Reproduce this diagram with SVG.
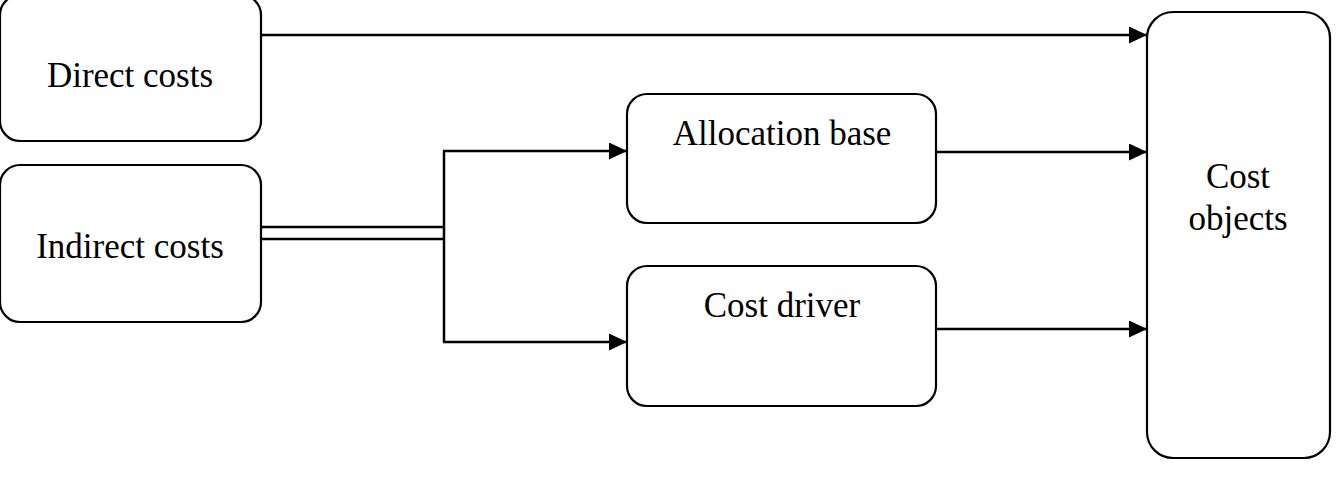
<svg xmlns="http://www.w3.org/2000/svg" width="1337" height="479" viewBox="0 0 1337 479">
<defs>
<style>
.box{fill:#fff;stroke:#000;stroke-width:2.2}
.t{font-family:"Liberation Serif","Times New Roman",serif;font-size:35px;fill:#000;text-anchor:middle}
.ln{fill:none;stroke:#000;stroke-width:2.5}
</style>
<marker id="ah" markerWidth="18" markerHeight="17" refX="18" refY="8.5" orient="auto" markerUnits="userSpaceOnUse">
<path d="M0,0 L18,8.5 L0,17 Z" fill="#000"/>
</marker>
</defs>
<rect width="1337" height="479" fill="#fff"/>
<g id="connectors">
<path class="ln" d="M261,35 H1147" marker-end="url(#ah)"/>
<path class="ln" d="M261,227 H444 M261,239 H444"/>
<path class="ln" d="M444,342 V151"/>
<path class="ln" d="M443,151 H627" marker-end="url(#ah)"/>
<path class="ln" d="M443,342 H627" marker-end="url(#ah)"/>
<path class="ln" d="M936,152 H1147" marker-end="url(#ah)"/>
<path class="ln" d="M936,329 H1147" marker-end="url(#ah)"/>
</g>
<g id="direct-costs">
<rect class="box" x="0" y="-5" width="261" height="146" rx="20"/>
<text class="t" x="130" y="87">Direct costs</text>
</g>
<g id="indirect-costs">
<rect class="box" x="0" y="165" width="261" height="157" rx="20"/>
<text class="t" x="130" y="258">Indirect costs</text>
</g>
<g id="allocation-base">
<rect class="box" x="627" y="94" width="309" height="129" rx="20"/>
<text class="t" x="782" y="145">Allocation base</text>
</g>
<g id="cost-driver">
<rect class="box" x="627" y="266" width="309" height="140" rx="20"/>
<text class="t" x="782" y="317">Cost driver</text>
</g>
<g id="cost-objects">
<rect class="box" x="1147" y="12" width="183" height="446" rx="26"/>
<text class="t" x="1238" y="188">Cost</text>
<text class="t" x="1238" y="230">objects</text>
</g>
</svg>
